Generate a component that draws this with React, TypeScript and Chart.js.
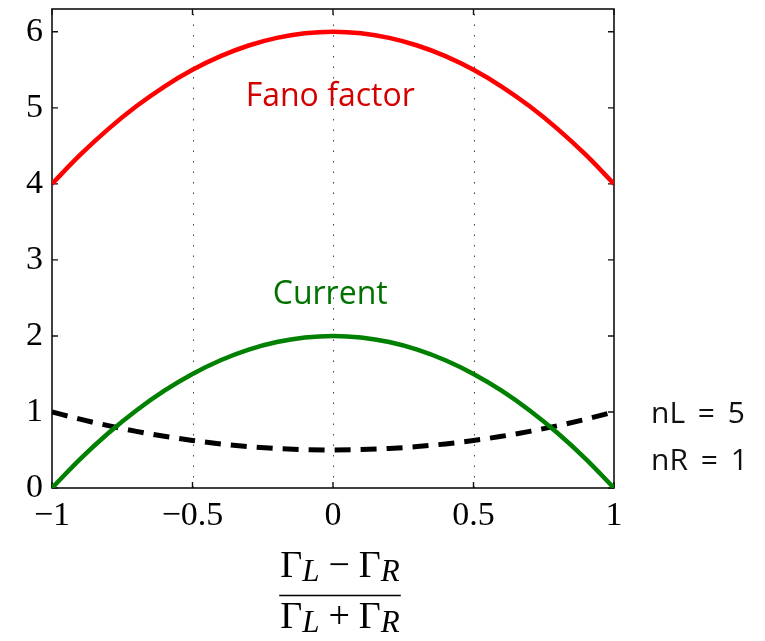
import React, { useEffect, useRef } from "react";
import { Chart, registerables } from "chart.js";

Chart.register(...registerables);

const xValues = [-1, -0.9, -0.8, -0.7, -0.6, -0.5, -0.4, -0.3, -0.2, -0.1, 0, 0.1, 0.2, 0.3, 0.4, 0.5, 0.6, 0.7, 0.8, 0.9, 1];
const fanoFactor = [4, 4.38, 4.72, 5.02, 5.28, 5.5, 5.68, 5.82, 5.92, 5.98, 6, 5.98, 5.92, 5.82, 5.68, 5.5, 5.28, 5.02, 4.72, 4.38, 4];
const current = [0, 0.38, 0.72, 1.02, 1.28, 1.5, 1.68, 1.82, 1.92, 1.98, 2, 1.98, 1.92, 1.82, 1.68, 1.5, 1.28, 1.02, 0.72, 0.38, 0];
const dashedRatio = [1, 0.905, 0.82, 0.745, 0.68, 0.625, 0.58, 0.545, 0.52, 0.505, 0.5, 0.505, 0.52, 0.545, 0.58, 0.625, 0.68, 0.745, 0.82, 0.905, 1];

const xTicks = [-1, -0.5, 0, 0.5, 1];
const yTicks = [0, 1, 2, 3, 4, 5, 6];
const xGrid = [-0.5, 0, 0.5];
const paramLabels = ["nL = 5", "nR = 1"];

const TICK_FONT = "Liberation Serif";
const SANS = "'Open Sans'";

const fmt = (v: number) => (v < 0 ? "\u2212" + String(Math.abs(v)) : String(v));

const framePlugin = {
  id: "frame",
  beforeDatasetsDraw(chart: any) {
    const { ctx, chartArea } = chart;
    const { left, right, top, bottom } = chartArea;
    const x = chart.scales.x;
    const y = chart.scales.y;
    ctx.save();
    ctx.strokeStyle = "#444";
    ctx.lineWidth = 1;
    ctx.setLineDash([1.5, 9]);
    for (const v of xGrid) {
      const px = Math.round(x.getPixelForValue(v)) + 0.5;
      ctx.beginPath();
      ctx.moveTo(px, bottom);
      ctx.lineTo(px, top);
      ctx.stroke();
    }
    ctx.setLineDash([]);
    ctx.strokeStyle = "#111";
    ctx.lineWidth = 1.6;
    ctx.strokeRect(left, top, right - left, bottom - top);
    ctx.lineWidth = 1.4;
    for (const v of yTicks) {
      const py = y.getPixelForValue(v);
      ctx.beginPath();
      ctx.moveTo(left, py);
      ctx.lineTo(left + 6, py);
      ctx.moveTo(right, py);
      ctx.lineTo(right - 6, py);
      ctx.stroke();
    }
    for (const v of xTicks) {
      const px = x.getPixelForValue(v);
      ctx.beginPath();
      ctx.moveTo(px, bottom);
      ctx.lineTo(px, bottom - 6);
      ctx.moveTo(px, top);
      ctx.lineTo(px, top + 6);
      ctx.stroke();
    }
    ctx.restore();
  },
  afterDraw(chart: any) {
    const { ctx, chartArea } = chart;
    const { left, right, bottom } = chartArea;
    const x = chart.scales.x;
    const y = chart.scales.y;
    ctx.save();
    ctx.textBaseline = "alphabetic";
    ctx.textAlign = "center";
    ctx.font = `32px ${SANS}`;
    ctx.fillStyle = "#d40000";
    ctx.fillText("Fano factor", x.getPixelForValue(-0.01), y.getPixelForValue(5.03));
    ctx.fillStyle = "#007200";
    ctx.fillText("Current", x.getPixelForValue(-0.01), y.getPixelForValue(2.42));
    ctx.textAlign = "left";
    ctx.fillStyle = "#111";
    ctx.font = `30px ${SANS}`;
    (ctx as any).wordSpacing = "5px";
    ctx.fillText(paramLabels[0], right + 37, y.getPixelForValue(0.86));
    ctx.fillText(paramLabels[1], right + 37, y.getPixelForValue(0.24));
    (ctx as any).wordSpacing = "0px";

    const cx = (left + right) / 2 + 7;
    const big = `38px ${TICK_FONT}`;
    const sub = `italic 31px ${TICK_FONT}`;
    const drawRow = (op: string, baseY: number) => {
      const parts = [
        { t: "\u0393", f: big, dy: 0, g: 0 },
        { t: "L", f: sub, dy: 4, g: 0 },
        { t: op, f: big, dy: 0, g: 9 },
        { t: "\u0393", f: big, dy: 0, g: 9 },
        { t: "R", f: sub, dy: 4, g: 0 },
      ];
      let w = 0;
      for (const p of parts) {
        ctx.font = p.f;
        w += p.g + ctx.measureText(p.t).width;
      }
      let px = cx - w / 2;
      for (const p of parts) {
        ctx.font = p.f;
        px += p.g;
        ctx.fillText(p.t, px, baseY + p.dy);
        px += ctx.measureText(p.t).width;
      }
      return w;
    };
    ctx.fillStyle = "#000";
    const w1 = drawRow("\u2212", bottom + 89);
    drawRow("+", bottom + 140);
    ctx.strokeStyle = "#000";
    ctx.lineWidth = 1.6;
    ctx.beginPath();
    ctx.moveTo(cx - w1 / 2 - 1, bottom + 107.5);
    ctx.lineTo(cx + w1 / 2 + 1, bottom + 107.5);
    ctx.stroke();
    ctx.restore();
  },
};

export default function App() {
  const ref = useRef<HTMLCanvasElement | null>(null);
  useEffect(() => {
    if (!ref.current) return;
    const chart = new Chart(ref.current, {
      type: "line",
      data: {
        labels: xValues,
        datasets: [
          {
            label: "Fano factor",
            data: xValues.map((v, i) => ({ x: v, y: fanoFactor[i] })),
            borderColor: "#ff0000",
            borderWidth: 4.5,
            pointRadius: 0,
            cubicInterpolationMode: "monotone",
            fill: false,
          },
          {
            label: "Current",
            data: xValues.map((v, i) => ({ x: v, y: current[i] })),
            borderColor: "#008000",
            borderWidth: 4.5,
            pointRadius: 0,
            cubicInterpolationMode: "monotone",
            fill: false,
          },
          {
            label: "Ratio",
            data: xValues.map((v, i) => ({ x: v, y: dashedRatio[i] })),
            borderColor: "#000000",
            borderWidth: 5,
            borderDash: [16, 10],
            pointRadius: 0,
            cubicInterpolationMode: "monotone",
            fill: false,
          },
        ],
      },
      options: {
        animation: false,
        responsive: false,
        devicePixelRatio: 1,
        layout: { padding: { top: 9, right: 151, left: 0, bottom: 0 } },
        plugins: { legend: { display: false }, tooltip: { enabled: false } },
        scales: {
          x: {
            type: "linear",
            min: -1,
            max: 1,
            grid: { display: false, drawTicks: false },
            border: { display: false },
            afterBuildTicks: (s: any) => {
              s.ticks = xTicks.map((v) => ({ value: v }));
            },
            afterFit: (s: any) => {
              s.height = 153;
              s.paddingLeft = 0;
              s.paddingRight = 0;
            },
            ticks: {
              padding: 8,
              maxRotation: 0,
              autoSkip: false,
              color: "#000",
              font: { family: TICK_FONT, size: 34 },
              callback: (v: any) => fmt(Number(v)),
            },
          },
          y: {
            type: "linear",
            min: 0,
            max: 6.3,
            grid: { display: false, drawTicks: false },
            border: { display: false },
            afterBuildTicks: (s: any) => {
              s.ticks = yTicks.map((v) => ({ value: v }));
            },
            afterFit: (s: any) => {
              s.width = 52;
              s.paddingTop = 0;
              s.paddingBottom = 0;
            },
            ticks: {
              padding: 9,
              autoSkip: false,
              color: "#000",
              font: { family: TICK_FONT, size: 34 },
              callback: (v: any) => fmt(Number(v)),
            },
          },
        },
      },
      plugins: [framePlugin],
    } as any);
    return () => chart.destroy();
  }, []);
  return (
    <div style={{ position: "fixed", left: 0, top: 0, width: 765, height: 641, background: "#fff" }}>
      <canvas ref={ref} width={765} height={641} style={{ display: "block" }} />
    </div>
  );
}
